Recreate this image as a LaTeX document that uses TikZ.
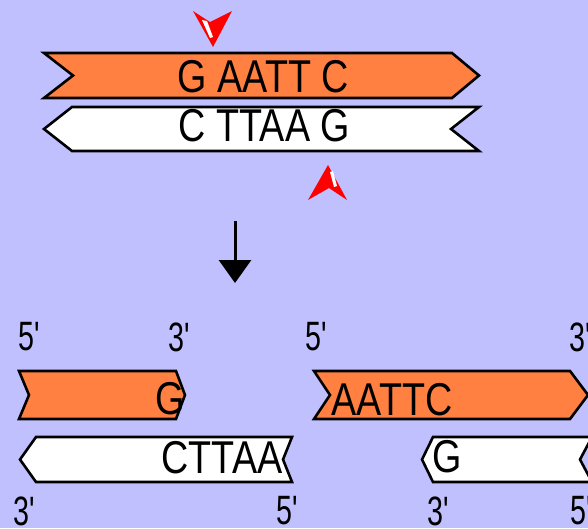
\documentclass[tikz,border=0pt]{standalone}
\usepackage{fontspec}
\usepackage{graphicx}
\newfontfamily\dnafont{Liberation Sans}
\usetikzlibrary{arrows.meta}
\definecolor{bgblue}{RGB}{192,192,255}
\definecolor{dnaorange}{RGB}{255,128,64}
\definecolor{cutred}{RGB}{255,0,0}
\tikzset{
  strandO/.style={fill=dnaorange, draw=black, line width=2.6pt, line join=miter},
  strandW/.style={fill=white, draw=black, line width=2.6pt, line join=miter},
  basetext/.style={font=\dnafont\fontsize{46}{46}\selectfont, inner sep=0pt, anchor=center},
  endlab/.style={font=\dnafont\fontsize{41}{41}\selectfont, inner sep=0pt, anchor=center},
  cutmark/.style={fill=cutred, draw=none},
  cutshine/.style={fill=white, draw=none},
  flow/.style={line width=3pt, -{Triangle[length=23pt,width=32pt]}}
}
\newcommand{\seqtxt}[1]{\scalebox{0.82}[1]{#1}}
\newcommand{\primelab}[1]{\scalebox{0.7}[1]{#1\textquotesingle}}
\begin{document}
\begin{tikzpicture}[x=1pt,y=-1pt]
  \fill[bgblue] (0,0) rectangle (588,528);
  \useasboundingbox (0,0) rectangle (588,528);
  \clip (0,0) rectangle (588,528);

  % intact double strand with the EcoRI site
  \draw[strandO] (44,53) -- (452,53) -- (479,75.5) -- (452,98) -- (44,98) -- (73,75.5) -- cycle;
  \node[basetext] (topseq) at (263.5,76.5) {\seqtxt{G AATT C}};
  \draw[strandW] (72,107) -- (479,107) -- (451,129) -- (479,151) -- (72,151) -- (44,129) -- cycle;
  \node[basetext] (botseq) at (264.5,126) {\seqtxt{C TTAA G}};

  % cut positions
  \fill[cutmark] (193,11) -- (210,22) -- (232,11) -- (213,47) -- cycle;
  \fill[cutshine] (202,20) -- (207,21) -- (213,37) -- (210,38) -- cycle;
  \fill[cutmark] (328,165) -- (347,200) -- (329,188) -- (308,200) -- cycle;
  \fill[cutshine] (330,172) -- (333,171) -- (337,186) -- (334,187) -- cycle;

  % reaction arrow
  \coordinate (flowstart) at (235,221);
  \coordinate (flowend) at (235,283);
  \draw[flow] (flowstart) -- (flowend);

  % strand end labels, top row
  \node[endlab] (l5a) at (29,337) {\primelab{5}};
  \node[endlab] (l3a) at (179,337) {\primelab{3}};
  \node[endlab] (l5b) at (316,337) {\primelab{5}};
  \node[endlab] (l3b) at (580,337) {\primelab{3}};

  % left fragment
  \draw[strandO] (19,371) -- (176,371) -- (185,395) -- (176,419) -- (19,419) -- (29,395) -- cycle;
  \node[basetext] (leftG) at (170,399) {\seqtxt{G}};
  \draw[strandW] (36,437) -- (292,437) -- (283,459.5) -- (292,482) -- (36,482) -- (20,459.5) -- cycle;
  \node[basetext] (leftC) at (222,458) {\seqtxt{CTTAA}};

  % right fragment
  \draw[strandO] (314,371) -- (570,371) -- (588,395) -- (570,419) -- (314,419) -- (330,395) -- cycle;
  \node[basetext] (rightA) at (392,400) {\seqtxt{AATTC}};
  \draw[strandW] (433,437) -- (592,437) -- (580,459.5) -- (592,482) -- (433,482) -- (422,459.5) -- cycle;
  \node[basetext] (rightG) at (447,457) {\seqtxt{G}};

  % strand end labels, bottom row
  \node[endlab] (l3c) at (24,511) {\primelab{3}};
  \node[endlab] (l5c) at (287,511) {\primelab{5}};
  \node[endlab] (l3d) at (438,511) {\primelab{3}};
  \node[endlab] (l5d) at (581,511) {\primelab{5}};
\end{tikzpicture}
\end{document}
